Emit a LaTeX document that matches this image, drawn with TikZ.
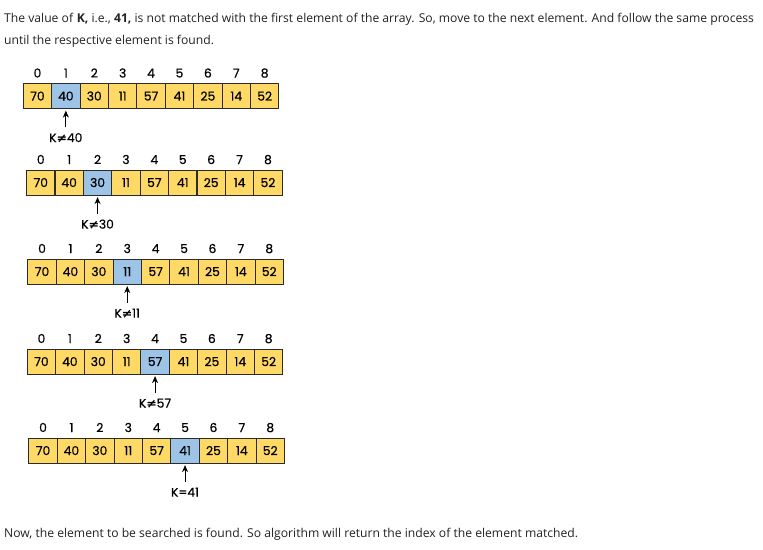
\documentclass[tikz,border=0pt]{standalone}
\usepackage{fontspec}
\setmainfont{Open Sans}
\newfontfamily\numfont[FakeBold=0.5]{Poppins}
\newfontfamily\symfont[FakeBold=0.5]{DejaVu Sans}
\usetikzlibrary{arrows.meta}
\definecolor{cellyellow}{HTML}{FFD966}
\definecolor{cellblue}{HTML}{9DC3E6}
\definecolor{txt}{HTML}{222222}
\definecolor{edge}{HTML}{2B2B2B}
\begin{document}
\begin{tikzpicture}[x=1pt,y=-1pt,
  cell/.style={draw=edge, line width=1.1pt, fill=cellyellow, minimum width=28.4pt, minimum height=25pt, inner sep=0pt, anchor=north west, font=\numfont\fontsize{12.3}{12}\selectfont},
  idx/.style={inner sep=0pt, anchor=base, font=\numfont\fontsize{12.3}{12}\selectfont},
  lab/.style={inner sep=0pt, anchor=base, font=\numfont\fontsize{12.3}{12}\selectfont},
  arr/.style={draw=black, line width=0.9pt, -{Stealth[length=7pt,width=6pt]}},
  body/.style={inner sep=0pt, anchor=base west, text=txt, font=\fontsize{12.15}{14}\selectfont}]
\useasboundingbox (0,0) rectangle (763,549);
\node[body] (t1) at (4,22) {The value of \textbf{K,} i.e., \textbf{41,} is not matched with the first element of the array. So, move to the next element. And follow the same process};
\node[body] (t2) at (4,44) {until the respective element is found.};
\node[body] (t3) at (4,537) {Now, the element to be searched is found. So algorithm will return the index of the element matched.};
\foreach \r/\x/\t/\hl/\lab in {1/22.7/83/1/{K{\symfont≠}40},2/26/169.5/2/{K{\symfont≠}30},3/27.3/258.5/3/{K{\symfont≠}11},4/26.7/348.5/4/{K{\symfont≠}57},5/28.3/437.5/5/{K=41}}{
  \foreach \v [count=\i from 0] in {70,40,30,11,57,41,25,14,52}{
    \ifnum\i=\hl\relax
      \node[cell, fill=cellblue] (a\r-\i) at (\x+\i*28.4, \t) {\v};
    \else
      \node[cell] (a\r-\i) at (\x+\i*28.4, \t) {\v};
    \fi
    \node[idx] (i\r-\i) at ([yshift=5.5pt]a\r-\i.north) {\i};
  }
  \coordinate (c\r) at ([yshift=-18pt]a\r-\hl.south);
  \draw[arr] (c\r) -- ([yshift=-1.5pt]a\r-\hl.south);
  \node[lab] (k\r) at ([yshift=-33pt]a\r-\hl.south) {\lab};
}
\end{tikzpicture}
\end{document}
